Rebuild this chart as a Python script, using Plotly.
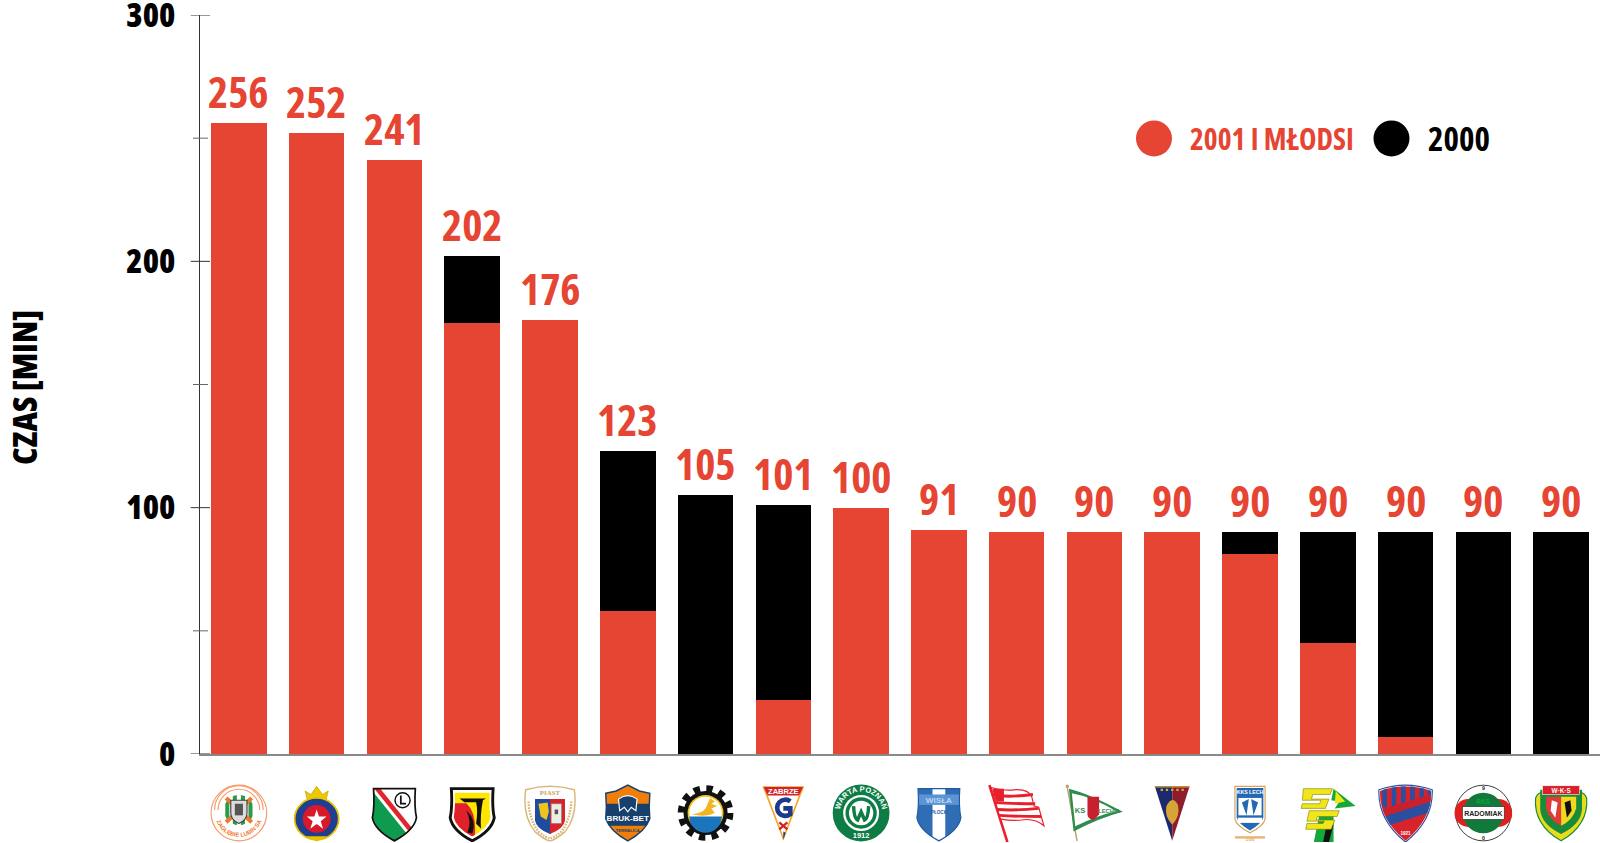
import base64
import plotly.graph_objects as go

young = [256, 252, 241, 175, 176, 58, 0, 22, 100, 91, 90, 90, 90, 81, 45, 7, 0, 0]
older = [0, 0, 0, 27, 0, 65, 105, 79, 0, 0, 0, 0, 0, 9, 45, 83, 90, 90]
totals = [256, 252, 241, 202, 176, 123, 105, 101, 100, 91, 90, 90, 90, 90, 90, 90, 90, 90]
y_ticks = [0, 100, 200, 300]
y_minor = [50, 150, 250]
series_names = ["2001 I MŁODSI", "2000"]
axis_title = "CZAS [MIN]"

RED = "#E54532"
FONT = "Open Sans"
x = list(range(len(totals)))

# plot-area geometry in pixels of the 1600x843 page
L, T, B = 200, 15.3, 754.0
PW, PH = 1600 - L, B - T
px = lambda v: (v - L) / PW
py = lambda v: (B - v) / PH


def narrow(t):
    return f"<span style='font-stretch:condensed'>{t}</span>"


SHIELD = "M14 8 L86 8 Q84 40 88 58 Q84 80 50 98 Q16 80 12 58 Q16 40 14 8Z"
T_ = "font-family='Liberation Sans' font-weight='700' text-anchor='middle'"
STAR = "M50 42 L54 54 L67 54 L57 62 L61 75 L50 67 L39 75 L43 62 L33 54 L46 54Z"

logos = [
    # 0 orange/green ring crest
    f"""<defs><clipPath id='c'><circle cx='50' cy='45' r='26'/></clipPath><path id='a' d='M9 52 A41 41 0 0 0 91 52'/></defs>
    <circle cx='50' cy='50' r='48' fill='#fff' stroke='#F79A6A' stroke-width='2'/>
    <path d='M8 45A42 42 0 0 1 92 45M14 45A36 36 0 0 1 86 45' fill='none' stroke='#F79A6A' stroke-width='2'/>
    <g clip-path='url(#c)'><rect width='100' height='100' fill='#fff'/><path d='M30 0V90M43 0V90M57 0V90M70 0V90' stroke='#2E9A4A' stroke-width='7'/></g>
    <path d='M28 24L72 66M72 24L28 66' stroke='#F0782A' stroke-width='7'/>
    <path d='M36 28H64V50Q64 62 50 68Q36 62 36 50Z' fill='#ddd' stroke='#444' stroke-width='2'/><path d='M43 34H57V54H43Z' fill='#555'/>
    <text {T_} font-size='10' fill='#F0782A' transform='translate(0,-2)'><textPath href='#a' startOffset='50%'>ZAGŁĘBIE LUBIN SA</textPath></text>""",
    # 1 crown and star
    f"""<path d='M34 28L30 12L40 18L50 4L60 18L70 12L66 28Z' fill='#F0C800' stroke='#B89400'/>
    <ellipse cx='50' cy='60' rx='38' ry='36' fill='#1E3F8F' stroke='#E8C200' stroke-width='3'/>
    <circle cx='50' cy='60' r='24' fill='#D8192B'/><path d='{STAR}' fill='#fff' transform='translate(0,2)'/>
    <path d='M30 90H70L50 99Z' fill='#E8C200'/>""",
    # 2 white-green shield with diagonal stripe
    f"""<defs><clipPath id='c'><path d='{SHIELD}'/></clipPath></defs><path d='{SHIELD}' fill='#fff'/>
    <g clip-path='url(#c)'><path d='M0 12L14 8L82 98L0 100Z' fill='#0F9B4F'/><path d='M14 0L88 92' stroke='#fff' stroke-width='18'/><path d='M14 0L88 92' stroke='#E0262C' stroke-width='8'/></g>
    <path d='{SHIELD}' fill='none' stroke='#111' stroke-width='3'/>
    <circle cx='64' cy='28' r='13' fill='#fff' stroke='#111' stroke-width='2.5'/><path d='M61 20V34H70' fill='none' stroke='#111' stroke-width='3'/>""",
    # 3 red-yellow shield
    f"""<defs><clipPath id='c'><path d='{SHIELD}'/></clipPath></defs><path d='{SHIELD}' fill='#fff' stroke='#111' stroke-width='5'/>
    <g clip-path='url(#c)' transform='translate(50,50) scale(.84) translate(-50,-50)'><rect width='100' height='100' fill='#FFE600'/><path d='M0 30H38Q60 50 55 100H0Z' fill='#E0202A'/>
    <path d='M24 20H78L72 24Q66 55 68 82L58 72Q62 45 58 28H34Z M40 90Q50 70 38 45Q60 65 50 92Z' fill='#111'/></g>""",
    # 4 gold-rim round shield
    f"""<defs><clipPath id='c'><path d='M24 26H76V60Q76 76 50 86Q24 76 24 60Z'/></clipPath></defs>
    <path d='M8 10Q50 -2 92 10Q98 55 76 82Q60 96 50 98Q40 96 24 82Q2 55 8 10Z' fill='#fff' stroke='#D9B77A' stroke-width='2.5'/>
    <text x='50' y='19' {T_} font-size='12' fill='#C9A35E' style='font-family:Liberation Serif'>PIAST</text>
    <g clip-path='url(#c)'><rect x='20' y='20' width='32' height='70' fill='#1F4C9E'/><rect x='50' y='20' width='30' height='70' fill='#D8232A'/></g>
    <path d='M30 34L46 32L48 48L44 62L34 56Z' fill='#F0C419'/><path d='M52 34H70V68H52Z' fill='#EDEDE6' stroke='#777'/><path d='M58 44H64V52H58Z' fill='#555'/>
    <path d='M13 30Q14 60 30 82Q44 93 50 94Q58 92 70 82Q85 60 87 30' fill='none' stroke='#D9B77A' stroke-width='4' stroke-dasharray='3 2'/>""",
    # 5 orange-blue shield
    f"""<defs><clipPath id='c'><path d='M12 16L30 12L50 2L70 12L88 16Q86 40 88 60Q80 82 50 98Q20 82 12 60Q14 40 12 16Z'/></clipPath></defs>
    <g clip-path='url(#c)'><rect width='100' height='100' fill='#F07F09'/><rect y='34' width='100' height='38' fill='#17406D'/></g>
    <path d='M12 16L30 12L50 2L70 12L88 16Q86 40 88 60Q80 82 50 98Q20 82 12 60Q14 40 12 16Z' fill='none' stroke='#17406D' stroke-width='2.5'/>
    <path d='M34 26Q50 14 66 26L64 46L56 40L50 48L44 40L36 46Z' fill='#17406D' stroke='#fff' stroke-width='2'/>
    <text x='50' y='64' {T_} font-size='14' fill='#fff'>BRUK-BET</text><text x='50' y='82' {T_} font-size='7' fill='#17406D'>TERMALICA</text>""",
    # 6 gear
    """<circle cx='50' cy='50' r='38' fill='#111'/><circle cx='50' cy='50' r='42' fill='none' stroke='#111' stroke-width='12' stroke-dasharray='11 11'/>
    <circle cx='50' cy='50' r='31' fill='#F4C21E'/><circle cx='50' cy='50' r='28' fill='#fff'/>
    <path d='M22 56H78A28 28 0 0 1 22 56Z' fill='#1B75BC'/>
    <path d='M26 52Q44 50 50 42L58 24L66 30L60 34L70 38L60 42L66 50Q50 58 26 52Z' fill='#F4B41E'/>""",
    # 7 pennant triangle
    f"""<path d='M14 4H86L50 98Z' fill='#F6A623'/><path d='M18 6H82L50 90Z' fill='#fff'/><path d='M16 5H84L77 20H23Z' fill='#D2232A'/>
    <text x='50' y='17' {T_} font-size='13' fill='#fff'>ZABRZE</text>
    <path d='M62 30A14 14 0 1 0 62 52V42H50' fill='none' stroke='#1D3B8B' stroke-width='8'/><path d='M43 66L57 78M57 66L43 78' stroke='#D2232A' stroke-width='4'/>
    <path d='M50 82V96L54 84Z' fill='#1D3B8B'/>""",
    # 8 green circle
    f"""<defs><path id='a' d='M13 50A37 37 0 0 1 87 50'/></defs><circle cx='50' cy='50' r='49' fill='#0E7C45'/>
    <circle cx='50' cy='50' r='31' fill='#fff'/><circle cx='50' cy='50' r='27' fill='#0E7C45'/><circle cx='50' cy='50' r='21' fill='#fff'/>
    <text {T_} font-size='13' fill='#fff'><textPath href='#a' startOffset='50%'>WARTA POZNAŃ</textPath></text>
    <text x='50' y='93' {T_} font-size='13' fill='#fff'>1912</text>
    <path d='M37 38Q38 60 44 62L50 48L56 62Q62 60 63 38' fill='none' stroke='#0E7C45' stroke-width='6'/>""",
    # 9 blue-white shield
    f"""<defs><clipPath id='c'><path d='{SHIELD}'/></clipPath></defs><path d='{SHIELD}' fill='#2F6DB5'/>
    <g clip-path='url(#c)'><rect x='39' width='22' height='100' fill='#fff'/><rect x='14' y='18' width='72' height='18' fill='#5B94D6'/></g>
    <path d='{SHIELD}' fill='none' stroke='#1F5AA3' stroke-width='2'/>
    <text x='50' y='32' {T_} font-size='14' fill='#BBD4F0'>WISŁA</text><text x='50' y='52' {T_} font-size='8' fill='#1F5AA3'>PŁOCK</text>""",
    # 10 red-white flag
    """<path d='M3 2L34 100' stroke='#F01C2C' stroke-width='4.5'/>
    <path d='M6 6Q30 12 45 10Q70 8 76 22L80 38L88 40L97 72Q80 58 58 62Q40 64 22 60Z' fill='#fff' stroke='#E8202C' stroke-width='2'/>
    <path d='M9 18Q30 24 78 18M13 32Q40 34 82 34M16 44Q50 46 88 42M20 54Q50 56 92 56' fill='none' stroke='#E8202C' stroke-width='5'/>
    <path d='M8 8H28V30H14Z' fill='#E8202C'/>""",
    # 11 green-white pennant
    f"""<path d='M3 4L20 98' stroke='#B5A269' stroke-width='2.5'/><circle cx='3' cy='4' r='3' fill='#B5A269'/>
    <path d='M6 8Q40 16 99 48Q60 58 14 82Z' fill='#2F8B4E'/><path d='M11 16Q45 22 88 47Q55 54 17 73Z' fill='#fff'/>
    <path d='M38 20H58V50Q50 60 46 60Q38 56 38 50Z' fill='#C8202D' transform='translate(0,2)'/>
    <text x='25' y='50' {T_} font-size='13' fill='#2F8B4E'>KS</text><text x='75' y='50' {T_} font-size='10' fill='#2F8B4E'>LECHIA</text>""",
    # 12 navy-maroon pennant
    """<path d='M20 4H50V98Z' fill='#1A2A6C'/><path d='M50 4H80L50 98Z' fill='#8E1C2D'/><rect x='20' y='4' width='60' height='2' fill='#D5A637'/>
    <path d='M40 38Q50 18 60 36Q64 56 50 70Q36 56 40 38Z' fill='#D5A637'/><path d='M30 10H70' stroke='#D5A637' stroke-width='4' stroke-dasharray='4 5'/>""",
    # 13 blue shield with wings
    f"""<path d='M24 4H76V60Q74 72 50 84Q26 72 24 60Z' fill='#fff' stroke='#D8A25A' stroke-width='2'/>
    <path d='M27 7H73V58Q70 68 50 80Q30 68 27 58Z' fill='#2468B4'/><rect x='30' y='24' width='40' height='30' fill='#fff'/>
    <path d='M48 26L36 32L44 54ZM52 26L64 32L56 54Z' fill='#2468B4'/><rect x='29' y='58' width='42' height='9' fill='#fff'/>
    <text x='50' y='18' {T_} font-size='9' fill='#fff'>KKS LECH</text>
    <path d='M24 92H76' stroke='#E8B272' stroke-width='4'/><text x='50' y='98' {T_} font-size='10' fill='#E8B272'>100</text>""",
    # 14 yellow-green letters
    """<path d='M36 50H60V100H26Z' fill='#14A83C'/><path d='M48 70H60L52 100H42Z' fill='#111'/>
    <path d='M8 8H58L54 18H24L22 26H52L46 42H4L6 34H36L38 28H6Z' fill='#F0E619' stroke='#7a7a00'/>
    <path d='M60 8L98 38L62 42L70 30L56 28Z' fill='#14A83C'/><path d='M60 8L80 30L62 34L64 10Z' fill='#F0E619'/>
    <path d='M18 46H70L66 56H32L30 62H62L56 78H12L14 68H42L44 64H14Z' fill='#F0E619' stroke='#7a7a00'/>""",
    # 15 blue-red shield
    f"""<defs><clipPath id='c'><path d='M6 12Q50 -4 94 12Q96 60 50 98Q4 60 6 12Z'/></clipPath></defs>
    <path d='M4 10Q50 -6 96 10Q98 62 50 100Q2 62 4 10Z' fill='#fff' stroke='#2A4FA0' stroke-width='2'/>
    <g clip-path='url(#c)'><rect width='100' height='100' fill='#D8232A'/><path d='M14 0V40M30 0V40M46 0V36M62 0V30M78 0V24M92 0V18' stroke='#2A4FA0' stroke-width='8'/>
    <path d='M0 60L100 28V46L0 78Z' fill='#2A4FA0'/><path d='M0 46L100 16V28L0 60Z' fill='#C8202D'/></g>
    <text x='50' y='88' {T_} font-size='8' fill='#fff'>1921</text>""",
    # 16 green-red disc
    f"""<circle cx='50' cy='50' r='48' fill='#fff' stroke='#222' stroke-width='1.5'/>
    <circle cx='24' cy='50' r='24' fill='#E02020'/><circle cx='76' cy='50' r='24' fill='#E02020'/>
    <circle cx='50' cy='50' r='35' fill='#12793C'/><rect x='14' y='39' width='72' height='22' fill='#fff' stroke='#222'/>
    <text x='50' y='55' {T_} font-size='12' fill='#222'>RADOMIAK</text><text x='50' y='34' {T_} font-size='11' fill='#0a3'>RKS</text>
    <text x='50' y='10' {T_} font-size='9' fill='#222'>9</text><text x='50' y='97' {T_} font-size='9' fill='#222'>0</text>""",
    # 17 green crest with wreath
    f"""<path d='M6 24Q2 70 50 98Q98 70 94 24Q90 14 80 14L82 40Q80 70 50 84Q20 70 18 40L20 14Q10 14 6 24Z' fill='#E8DC1C' stroke='#1A8B3A' stroke-width='2'/>
    <path d='M14 10H86V44Q84 70 50 86Q16 70 14 44Z' fill='#1A8B3A'/><rect x='18' y='3' width='64' height='15' fill='#D8202A' stroke='#fff'/>
    <text x='50' y='15' {T_} font-size='11' fill='#fff'>W·K·S</text>
    <path d='M24 22H50V72Q30 62 24 42Z' fill='#E03A3A'/><path d='M50 22H76V42Q70 62 50 72Z' fill='#F2D91E'/>
    <path d='M34 28L44 32L40 58L32 46Z' fill='#fff'/><path d='M66 28L56 32L60 58L68 46Z' fill='#111'/>""",
]


def svg_uri(body):
    svg = f"<svg xmlns='http://www.w3.org/2000/svg' viewBox='0 0 100 100' width='300' height='300'>{body}</svg>"
    return "data:image/svg+xml;base64," + base64.b64encode(svg.encode("utf-8")).decode()


fig = go.Figure()
fig.add_bar(x=x, y=young, marker_color=RED, marker_line_width=0, name=series_names[0], showlegend=False)
fig.add_bar(x=x, y=older, marker_color="#000000", marker_line_width=0, name=series_names[1], showlegend=False)

for i, t in zip(x, totals):
    fig.add_annotation(x=i, y=t, text=narrow(t), showarrow=False, yanchor="bottom", yshift=0,
                       font=dict(family=FONT, size=43, color=RED, weight=700))

# legend
for (cx, color, label, tx, size) in [(1154, RED, series_names[0], 1188, 29.5), (1391.5, "#000000", series_names[1], 1426, 33)]:
    fig.add_shape(type="circle", xref="paper", yref="paper", x0=px(cx - 18), x1=px(cx + 18),
                  y0=py(138.7 + 18), y1=py(138.7 - 18), fillcolor=color, line_width=0)
    fig.add_annotation(xref="paper", yref="paper", x=px(tx), y=py(139), text=narrow(label), showarrow=False,
                       xanchor="left", yanchor="middle",
                       font=dict(family=FONT, size=size, color=color, weight=700))

# axis title
fig.add_annotation(xref="paper", yref="paper", x=px(24), y=py(388), text=narrow(axis_title), textangle=-90,
                   showarrow=False, xanchor="center", yanchor="middle",
                   font=dict(family=FONT, size=34, color="#000000", weight=800))

# ticks crossing the axis line
for v in y_ticks:
    fig.add_shape(type="line", xref="paper", yref="y", x0=px(190.7), x1=px(210), y0=v, y1=v,
                  line=dict(color="#333333", width=1))
for v in y_minor:
    fig.add_shape(type="line", xref="paper", yref="y", x0=px(193), x1=px(208), y0=v, y1=v,
                  line=dict(color="#666666", width=1))

# club crests
images = [dict(source=svg_uri(b), xref="x", yref="paper", x=i, y=py(784), sizex=58 / (PW / 18),
               sizey=58 / PH, xanchor="center", yanchor="top", sizing="contain", layer="above")
          for i, b in zip(x, logos)]

fig.update_layout(
    width=1600, height=843,
    barmode="stack", bargap=0.286, plot_bgcolor="white", paper_bgcolor="white",
    margin=dict(l=L, r=0, t=T, b=843 - B), images=images, showlegend=False,
    xaxis=dict(range=[-0.5, 17.5], showgrid=False, zeroline=False, showticklabels=False, ticks="",
               showline=True, linecolor="#888888", linewidth=1.5, automargin=False),
    yaxis=dict(range=[0, 300], tickvals=y_ticks, ticktext=[narrow(v) for v in y_ticks], showgrid=False,
               zeroline=False, showline=True, linecolor="#333333", linewidth=1, ticks="", automargin=False,
               ticklabelstandoff=17, ticklabeloverflow="allow",
               tickfont=dict(family=FONT, size=33, color="#000000", weight=800)),
)
fig.write_html("out.html", config={"displayModeBar": False}, post_script="document.body.style.margin='0';")
